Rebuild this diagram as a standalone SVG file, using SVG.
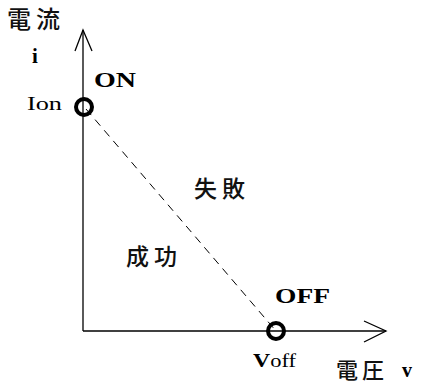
<svg xmlns="http://www.w3.org/2000/svg" width="422" height="390" viewBox="0 0 422 390">
<style>
.ax{stroke:#000;stroke-width:1.3;fill:none}
.cjk{font-family:"Noto Sans CJK JP","Noto Sans CJK SC",sans-serif;fill:#111;font-weight:500}
.sr{font-family:"Liberation Serif",serif;fill:#000}
.b{font-weight:bold}
.pt{fill:none;stroke:#000;stroke-width:4}
</style>
<rect width="422" height="390" fill="#fff"/>
<g id="connectors">
<line class="ax" x1="83" y1="331" x2="83" y2="30"/>
<polyline class="ax" points="75,51 83,30 92,51"/>
<line class="ax" x1="83" y1="331" x2="386" y2="331"/>
<polyline class="ax" points="364,321 386,331 364,342"/>
<line x1="86" y1="109" x2="276" y2="331" stroke="#000" stroke-width="1" stroke-dasharray="8,6"/>
</g>
<g id="on">
<circle class="pt" cx="84" cy="107" r="8"/>
<text class="sr b" x="94" y="87" font-size="22" textLength="42" lengthAdjust="spacingAndGlyphs">ON</text>
<text class="sr" x="27" y="110" font-size="19" textLength="35" lengthAdjust="spacingAndGlyphs">Ion</text>
</g>
<g id="off">
<circle class="pt" cx="276" cy="331" r="8"/>
<text class="sr b" x="275" y="303" font-size="22" textLength="55" lengthAdjust="spacingAndGlyphs">OFF</text>
<text class="sr" x="253" y="367" font-size="18" textLength="43" lengthAdjust="spacingAndGlyphs"><tspan font-weight="bold" font-size="19">V</tspan>off</text>
</g>
<g id="yaxis-label">
<text class="cjk" x="7" y="28" font-size="24" letter-spacing="5">電流</text>
<text class="sr b" x="32" y="63" font-size="21">i</text>
</g>
<g id="xaxis-label">
<text class="cjk" x="336" y="378" font-size="22" letter-spacing="4">電圧</text>
<text class="sr b" x="402" y="377" font-size="20">v</text>
</g>
<g id="fail">
<text class="cjk" x="194" y="197" font-size="23" letter-spacing="5">失敗</text>
</g>
<g id="success">
<text class="cjk" x="126" y="265" font-size="23" letter-spacing="5">成功</text>
</g>
</svg>
